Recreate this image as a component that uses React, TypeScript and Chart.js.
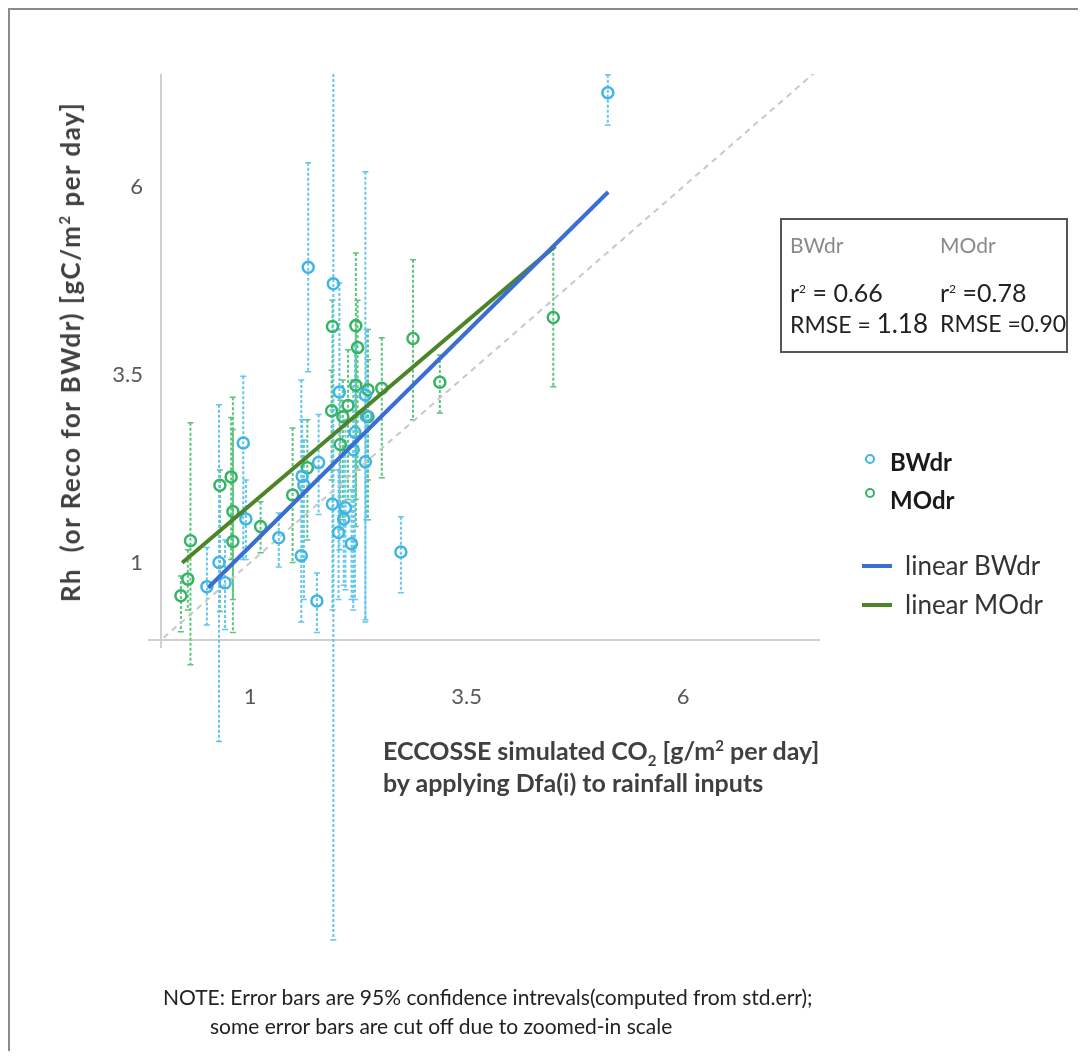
import React, { useEffect, useRef } from "react";
import { Chart, registerables } from "chart.js";

Chart.register(...registerables);

// ---- data ----
const bwX = [0.5, 0.64, 0.71, 0.92, 0.95, 1.33, 1.59, 1.6, 1.62, 1.79, 1.77, 1.67, 1.96, 1.95, 2.02, 2.1, 2.08, 2.17, 2.33, 2.19, 2.21, 2.03, 2.33, 2.34, 2.74, 5.13];
const bwY = [0.68, 1.0, 0.73, 2.59, 1.58, 1.33, 1.09, 2.15, 2.03, 2.33, 0.49, 4.93, 4.71, 1.78, 1.4, 1.73, 1.58, 1.25, 2.34, 2.5, 2.73, 3.27, 3.23, 2.95, 1.14, 7.25];
const bwLo = [0.17, -1.38, 0.11, 1.04, 1.04, 0.94, 0.21, 1.04, 0.51, 1.64, 0.07, 3.54, -4.02, 0.37, 0.51, 0.64, 0.7, 0.51, 0.24, 0.37, 0.51, 1.17, 0.21, 1.57, 0.6, 6.82];
const bwHi = [1.2, 3.1, 1.3, 3.48, 2.1, 1.66, 3.43, 2.9, 2.63, 2.97, 0.86, 6.32, 7.6, 3.03, 2.23, 2.9, 2.5, 1.97, 3.16, 3.43, 3.9, 4.72, 6.2, 4.1, 1.61, 7.49];

const moX = [0.2, 0.28, 0.31, 0.65, 0.78, 0.8, 0.8, 1.12, 1.49, 1.66, 1.95, 2.22, 2.24, 2.22, 1.94, 2.07, 2.13, 2.04, 2.36, 2.36, 2.52, 2.88, 3.19, 4.5];
const moY = [0.56, 0.78, 1.29, 2.03, 2.14, 1.68, 1.28, 1.48, 1.9, 2.26, 4.14, 4.15, 3.86, 3.36, 3.02, 2.94, 3.09, 2.57, 3.3, 2.94, 3.32, 3.98, 3.4, 4.26];
const moLo = [0.08, 0.37, -0.36, 0.35, 1.04, 0.07, 0.51, 1.13, 1.0, 1.3, 2.23, 1.48, 2.23, 1.84, 2.1, 1.57, 1.84, 1.44, 2.1, 1.57, 2.13, 2.9, 2.99, 3.34];
const moHi = [0.82, 1.17, 2.86, 2.23, 2.93, 3.2, 2.77, 1.81, 2.79, 2.9, 4.49, 5.12, 4.49, 4.23, 3.56, 3.43, 3.83, 3.16, 4.1, 3.7, 3.99, 5.03, 3.76, 5.19];

// linear fits: [BWdr, MOdr]
const fitSlope = [1.14, 0.978];
const fitIntercept = [0.078, 0.787];
const fitXStart = [0.515, 0.215];
const fitXEnd = [5.134, 4.522];

// 1:1 reference line extent
const identityX = [0, 7.6];

const tickValues = [1, 3.5, 6];
const xRange = [-0.03, 7.58];
const yRange = [-0.03, 7.5];

const BLUE = "#3fb5e6";
const BLUE_BAR = "#62c6ee";
const GREEN = "#36b466";
const GREEN_BAR = "#5cc47c";
const FIT_BLUE = "#3a6fd0";
const FIT_GREEN = "#4d8428";
const FONT = "Lato, 'Open Sans', sans-serif";

const errorBarPlugin = {
  id: "errorBars",
  beforeDatasetsDraw(chart: any) {
    const ctx = chart.ctx;
    const xs = chart.scales.x;
    const ys = chart.scales.y;
    const top = chart.chartArea.top;
    const groups = [
      { x: moX, lo: moLo, hi: moHi, color: GREEN_BAR },
      { x: bwX, lo: bwLo, hi: bwHi, color: BLUE_BAR },
    ];
    ctx.save();
    for (const g of groups) {
      ctx.strokeStyle = g.color;
      for (let i = 0; i < g.x.length; i++) {
        const px = xs.getPixelForValue(g.x[i]);
        const hiRaw = ys.getPixelForValue(g.hi[i]);
        const pyHi = Math.max(hiRaw, top);
        const pyLo = ys.getPixelForValue(g.lo[i]);
        ctx.lineWidth = 2;
        ctx.setLineDash([3, 2]);
        ctx.beginPath();
        ctx.moveTo(px, pyHi);
        ctx.lineTo(px, pyLo);
        ctx.stroke();
        ctx.setLineDash([]);
        ctx.lineWidth = 1.5;
        ctx.beginPath();
        if (hiRaw >= top) {
          ctx.moveTo(px - 3, pyHi);
          ctx.lineTo(px + 3, pyHi);
        }
        ctx.moveTo(px - 3, pyLo);
        ctx.lineTo(px + 3, pyLo);
        ctx.stroke();
      }
    }
    ctx.restore();
  },
};

const axisLinePlugin = {
  id: "axisLines",
  beforeDatasetsDraw(chart: any) {
    const ctx = chart.ctx;
    const xs = chart.scales.x;
    const ys = chart.scales.y;
    const x0 = xs.getPixelForValue(xRange[0]);
    const y0 = ys.getPixelForValue(yRange[0]);
    ctx.save();
    ctx.strokeStyle = "#cfcfcf";
    ctx.lineWidth = 2;
    ctx.beginPath();
    ctx.moveTo(xs.left - 13, y0);
    ctx.lineTo(xs.right, y0);
    ctx.moveTo(x0, ys.top);
    ctx.lineTo(x0, ys.bottom + 8);
    ctx.stroke();
    ctx.restore();
  },
};

function toPoints(xs: number[], ys: number[]) {
  return xs.map((x, i) => ({ x, y: ys[i] }));
}

function fitPoints(k: number) {
  return [fitXStart[k], fitXEnd[k]].map((x) => ({ x, y: fitIntercept[k] + fitSlope[k] * x }));
}

function ChartCanvas() {
  const ref = useRef<HTMLCanvasElement | null>(null);
  useEffect(() => {
    if (!ref.current) return;
    const tickOpts = {
      color: "#595959",
      font: { family: FONT, size: 22 },
      autoSkip: false,
      maxRotation: 0,
      callback: (v: any) => String(v),
    };
    const chart = new Chart(ref.current, {
      type: "scatter",
      data: {
        datasets: [
          {
            label: "1:1",
            data: identityX.map((x) => ({ x, y: x })),
            showLine: true,
            borderColor: "#c8c8c8",
            borderWidth: 2,
            borderDash: [6, 5],
            pointRadius: 0,
            order: 3,
          },
          {
            label: "MOdr",
            data: toPoints(moX, moY),
            pointRadius: 5.5,
            borderWidth: 2.5,
            borderColor: GREEN,
            backgroundColor: "rgba(255,255,255,0)",
            order: 2,
            clip: false,
          },
          {
            label: "BWdr",
            data: toPoints(bwX, bwY),
            pointRadius: 5.5,
            borderWidth: 2.5,
            borderColor: BLUE,
            backgroundColor: "rgba(255,255,255,0)",
            order: 1,
            clip: false,
          },
          {
            label: "linear BWdr",
            data: fitPoints(0),
            showLine: true,
            borderColor: FIT_BLUE,
            borderWidth: 4,
            pointRadius: 0,
            order: 0,
          },
          {
            label: "linear MOdr",
            data: fitPoints(1),
            showLine: true,
            borderColor: FIT_GREEN,
            borderWidth: 4,
            pointRadius: 0,
            order: 0,
          },
        ],
      } as any,
      options: {
        animation: false,
        responsive: false,
        devicePixelRatio: 1,
        events: [],
        layout: { padding: { left: 93, top: 66, right: 258, bottom: 331 } },
        plugins: { legend: { display: false }, tooltip: { enabled: false } },
        scales: {
          x: {
            type: "linear",
            min: xRange[0],
            max: xRange[1],
            grid: { display: false, drawTicks: false },
            border: { display: false },
            afterBuildTicks: (s: any) => {
              s.ticks = tickValues.map((v) => ({ value: v }));
            },
            afterFit: (s: any) => {
              s.height = 80;
            },
            ticks: { ...tickOpts, padding: 44 },
          },
          y: {
            type: "linear",
            min: yRange[0],
            max: yRange[1],
            grid: { display: false, drawTicks: false },
            border: { display: false },
            afterBuildTicks: (s: any) => {
              s.ticks = tickValues.map((v) => ({ value: v }));
            },
            afterFit: (s: any) => {
              s.width = 60;
            },
            ticks: { ...tickOpts, padding: 18 },
          },
        },
      } as any,
      plugins: [axisLinePlugin, errorBarPlugin],
    });
    return () => chart.destroy();
  }, []);
  return <canvas ref={ref} width={1070} height={1043} style={{ position: "absolute", left: 0, top: 0 }} />;
}

const abs = (left: number, top: number, extra: React.CSSProperties = {}): React.CSSProperties => ({
  position: "absolute",
  left,
  top,
  whiteSpace: "nowrap",
  fontFamily: FONT,
  lineHeight: "30px",
  height: 30,
  ...extra,
});

export default function App() {
  return (
    <div style={{ position: "relative", width: 1070, height: 1043, background: "#fff", overflow: "hidden" }}>
      <div style={{ position: "absolute", left: 0, top: 0, right: 0, bottom: 0, borderTop: "2px solid #8a8a8a", borderLeft: "2px solid #8a8a8a" }} />
      <ChartCanvas />

      {/* y axis title */}
      <div
        style={{
          position: "absolute",
          left: 62,
          top: 344,
          transform: "translate(-50%, -50%) rotate(-90deg)",
          whiteSpace: "nowrap",
          fontFamily: FONT,
          fontWeight: 700,
          fontSize: 26,
          letterSpacing: 1.5,
          color: "#404040",
        }}
      >
        Rh&nbsp; (or Reco for BWdr) [gC/m<sup style={{ fontSize: 15 }}>2</sup> per day]
      </div>

      {/* x axis title */}
      <div style={abs(375, 722, { fontWeight: 700, fontSize: 25, color: "#404040" })}>
        ECCOSSE simulated CO<sub style={{ fontSize: 15 }}>2</sub> [g/m<sup style={{ fontSize: 15 }}>2</sup> per day]
      </div>
      <div style={abs(375, 759, { fontWeight: 700, fontSize: 25, color: "#404040" })}>
        by applying Dfa(i) to rainfall inputs
      </div>

      {/* legend */}
      <div style={{ position: "absolute", left: 857, top: 446, width: 6, height: 6, borderRadius: "50%", border: `2px solid ${BLUE}` }} />
      <div style={abs(882, 439, { fontWeight: 700, fontSize: 24, color: "#1a1a1a" })}>BWdr</div>
      <div style={{ position: "absolute", left: 857, top: 480, width: 6, height: 6, borderRadius: "50%", border: `2px solid ${GREEN}` }} />
      <div style={abs(882, 477, { fontWeight: 700, fontSize: 24, color: "#1a1a1a" })}>MOdr</div>
      <div style={{ position: "absolute", left: 854, top: 556, width: 30, height: 4, background: FIT_BLUE }} />
      <div style={abs(897, 542, { fontSize: 26, color: "#333" })}>linear BWdr</div>
      <div style={{ position: "absolute", left: 854, top: 595, width: 30, height: 4, background: FIT_GREEN }} />
      <div style={abs(897, 581, { fontSize: 26, color: "#333" })}>linear MOdr</div>

      {/* stats box */}
      <div style={{ position: "absolute", left: 772, top: 210, width: 284, height: 131, border: "2px solid #555" }}>
        <div style={abs(8, 10, { fontSize: 21, color: "#8a8a8a" })}>BWdr</div>
        <div style={abs(158, 10, { fontSize: 21, color: "#8a8a8a" })}>MOdr</div>
        <div style={abs(8, 54, { fontSize: 25, color: "#222" })}>
          r<sup style={{ fontSize: 12 }}>2</sup> = 0.66
        </div>
        <div style={abs(158, 54, { fontSize: 25, color: "#222" })}>
          r<sup style={{ fontSize: 12 }}>2</sup> =0.78
        </div>
        <div style={abs(8, 88, { fontSize: 23, color: "#222" })}>
          RMSE = <span style={{ fontSize: 26 }}>1.18</span>
        </div>
        <div style={abs(158, 88, { fontSize: 23, color: "#222" })}>RMSE =0.90</div>
      </div>

      {/* note */}
      <div style={abs(155, 974, { fontSize: 21, color: "#222" })}>
        NOTE: Error bars are 95% confidence intrevals(computed from std.err);
      </div>
      <div style={abs(202, 1003, { fontSize: 21, color: "#222" })}>
        some error bars are cut off due to zoomed-in scale
      </div>
    </div>
  );
}
